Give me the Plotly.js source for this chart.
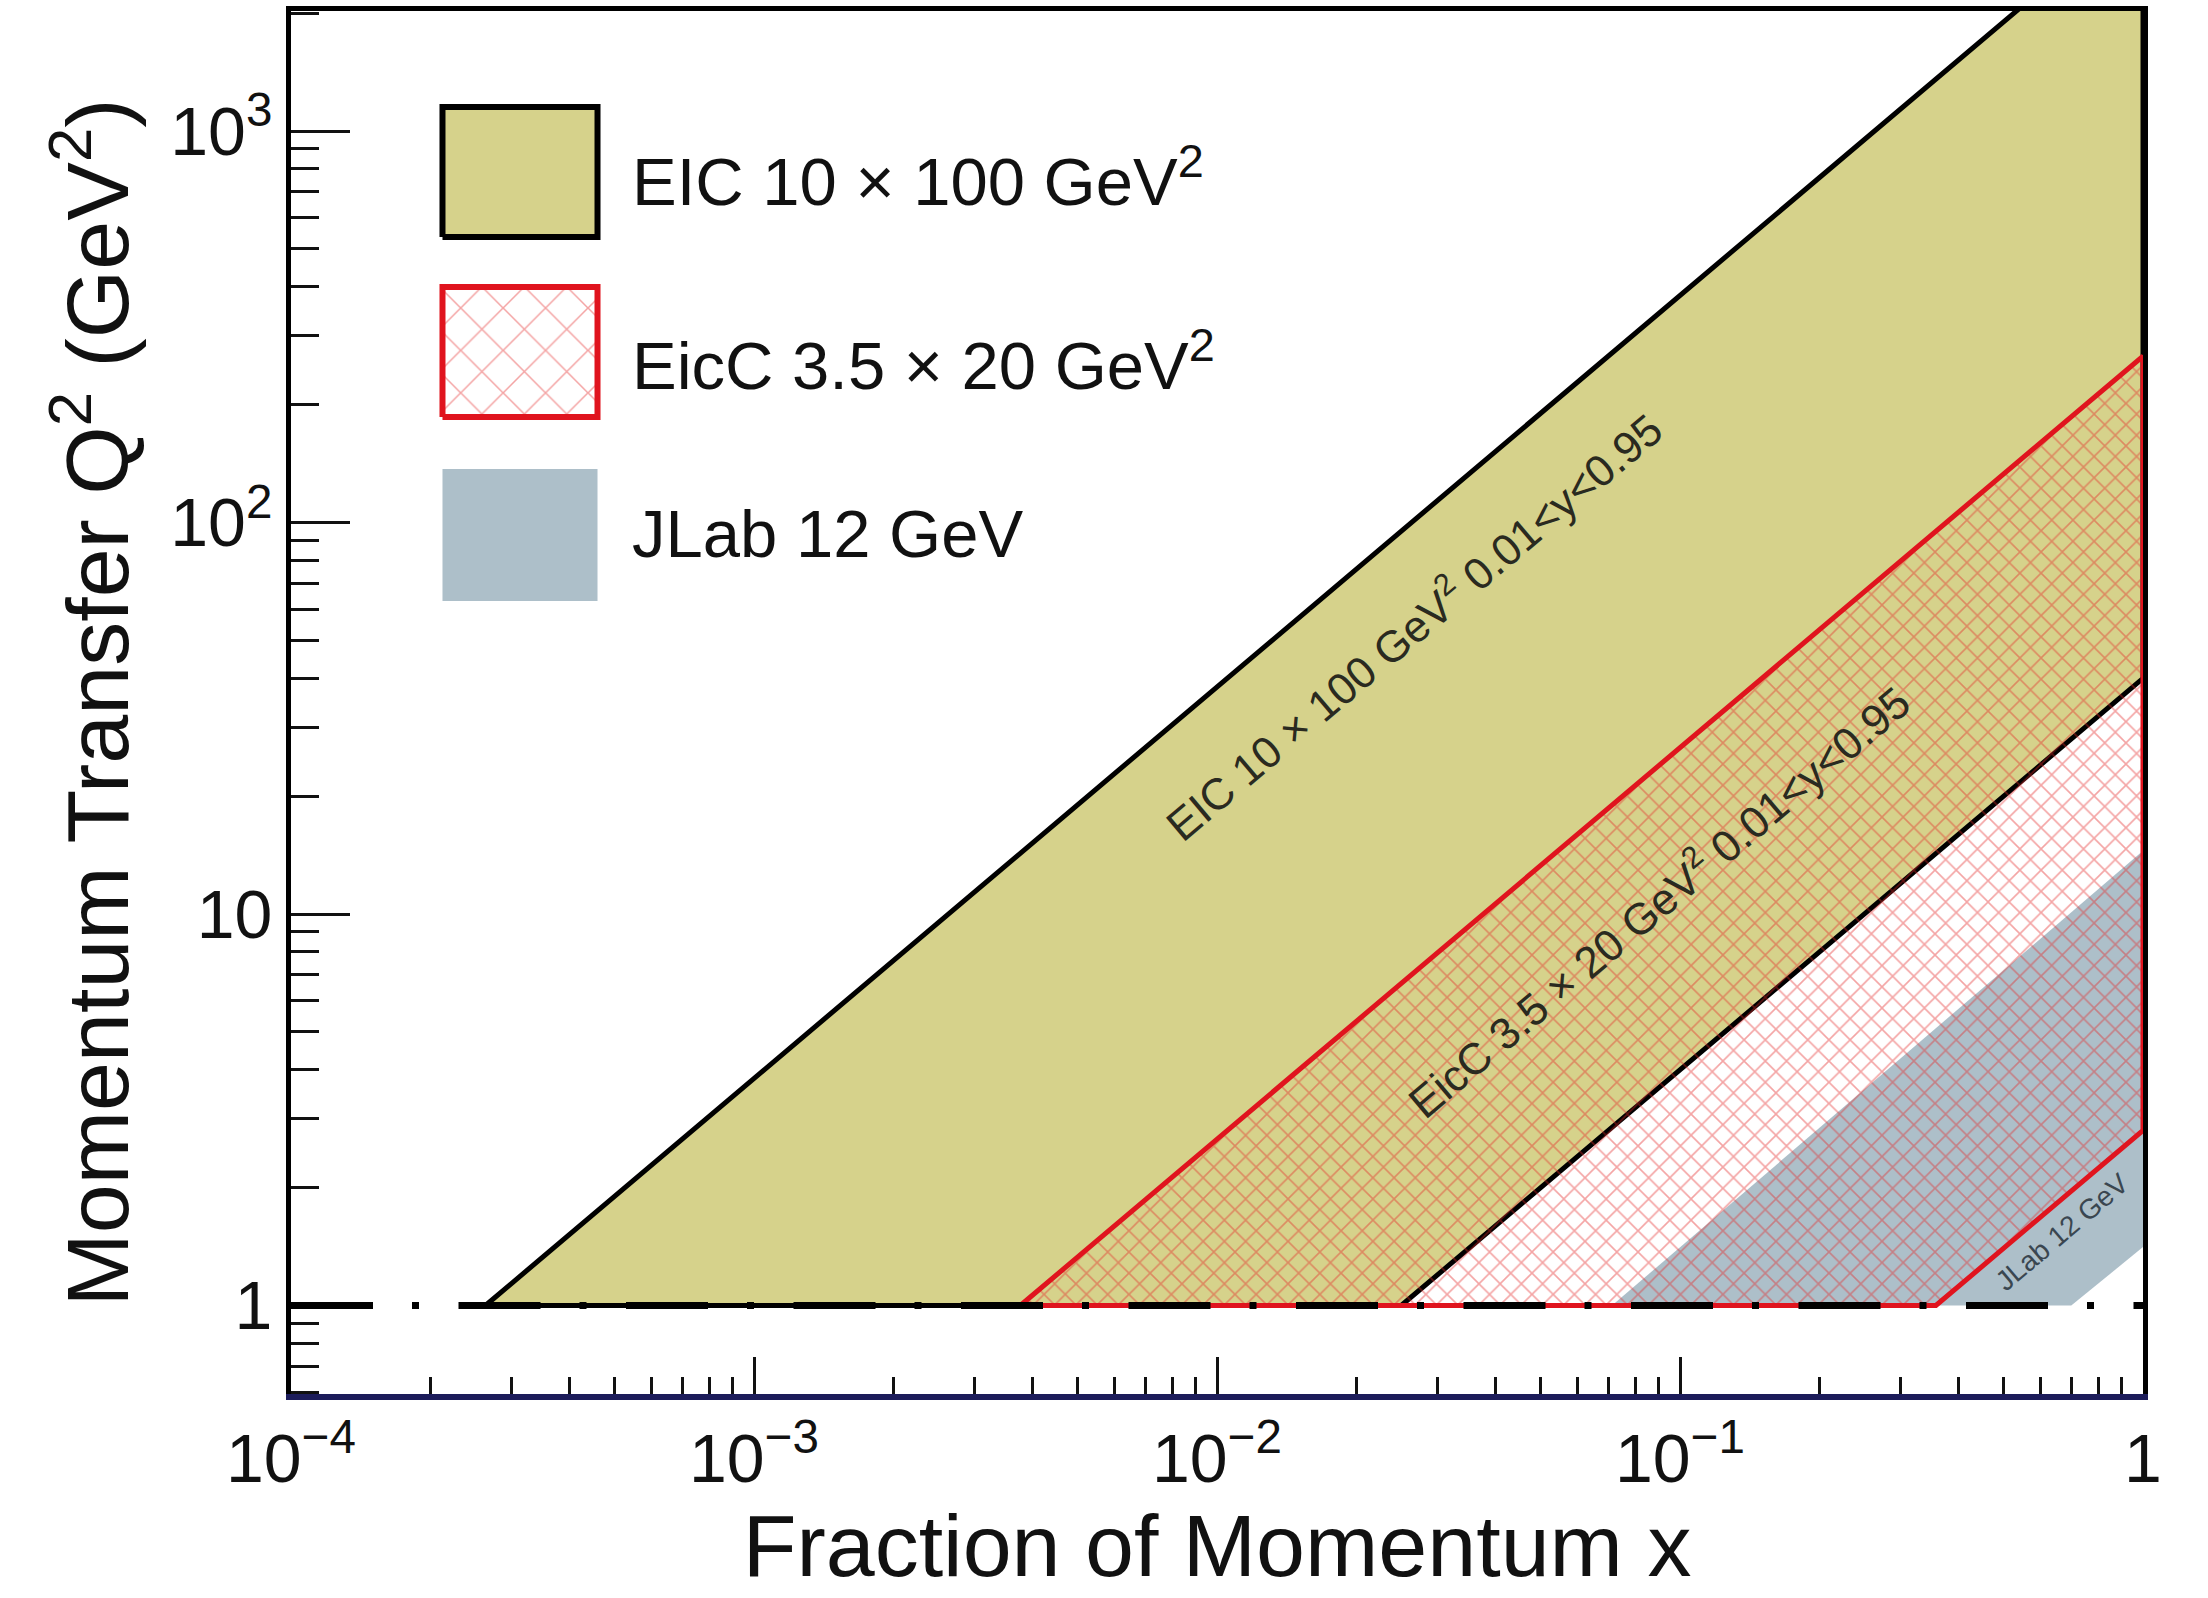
<!DOCTYPE html>
<html><head><meta charset="utf-8">
<script src="https://cdn.plot.ly/plotly-3.0.1.min.js"></script>
<style>html,body{margin:0;padding:0;background:#fff}#chart{width:2208px;height:1598px}</style>
</head><body><div id="chart"></div>
<script>
// ---- data ----
// EIC 10 x 100 GeV^2, 0.01<y<0.95 (region above Q2 = 1)
const eicX  = [2.63e-4, 1, 1, 0.025, 2.63e-4];
const eicQ2 = [1, 3800, 40, 1, 1];
// EicC 3.5 x 20 GeV^2, 0.01<y<0.95
const eiccX  = [3.76e-3, 1, 1, 0.357, 3.76e-3];
const eiccQ2 = [1, 266, 2.8, 1, 1];
// JLab 12 GeV
const jlabX  = [0.0713, 1, 1, 0.70, 0.0713];
const jlabQ2 = [1, 14.5, 1.41, 1, 1];
// Q2 = 1 GeV^2 cut line
const cutX  = [1e-4, 1];
const cutQ2 = [1, 1];

const seriesNames = ['EIC 10 × 100 GeV<sup>2</sup>', 'EicC 3.5 × 20 GeV<sup>2</sup>', 'JLab 12 GeV'];
const bandLabels  = ['EIC 10 × 100 GeV<sup>2</sup> 0.01&lt;y&lt;0.95',
                     'EicC 3.5 × 20 GeV<sup>2</sup> 0.01&lt;y&lt;0.95',
                     'JLab 12 GeV'];
const bandLabelX  = [0.0264, 0.0892, 0.667];
const bandLabelQ2 = [54.8, 10.9, 1.54];

const xTickVals = [1e-4, 1e-3, 1e-2, 1e-1, 1];
const xTickText = ['10<sup>−4</sup>', '10<sup>−3</sup>', '10<sup>−2</sup>', '10<sup>−1</sup>', '1'];
const yTickVals = [1, 10, 100, 1000];
const yTickText = ['1', '10', '10<sup>2</sup>', '10<sup>3</sup>'];

// ---- styling / layout ----
const FONT = 'Liberation Sans, Arial, Helvetica, sans-serif';
const OLIVE = '#d6d28b', GRAY = '#adbfc9', RED = '#e0141e', HATCH = 'rgba(228,40,40,0.85)';
const legendBoxes = [ // fractions of the plot area
  {x0: 0.0818, x1: 0.1655, y0: 0.8366, y1: 0.9306, ty: 0.880},
  {x0: 0.0818, x1: 0.1655, y0: 0.7064, y1: 0.8004, ty: 0.747},
  {x0: 0.0818, x1: 0.1655, y0: 0.5734, y1: 0.6688, ty: 0.622}
];
function minorTicks(lo, hi) {
  const v = [];
  for (let e = lo; e < hi; e++) for (let d = 2; d <= 9; d++) v.push(d * Math.pow(10, e));
  return v;
}
function rectX(b) { return [b.x0, b.x1, b.x1, b.x0, b.x0]; }
function rectY(b) { return [b.y0, b.y0, b.y1, b.y1, b.y0]; }

const traces = [
  {x: eicX, y: eicQ2, mode: 'lines', fill: 'toself', fillcolor: OLIVE,
   line: {color: '#000', width: 5}, showlegend: false, hoverinfo: 'skip', name: seriesNames[0]},
  {x: jlabX, y: jlabQ2, mode: 'lines', fill: 'toself', fillcolor: GRAY,
   line: {width: 0, color: GRAY}, showlegend: false, hoverinfo: 'skip', name: seriesNames[2]},
  {x: eiccX, y: eiccQ2, mode: 'lines', fill: 'toself', fillcolor: 'rgba(0,0,0,0)',
   fillpattern: {shape: 'x', size: 15, solidity: 0.2, fgcolor: HATCH, bgcolor: 'rgba(0,0,0,0)', fillmode: 'overlay'},
   line: {color: RED, width: 5}, showlegend: false, hoverinfo: 'skip', name: seriesNames[1]},
  {x: cutX, y: cutQ2, mode: 'lines', line: {color: '#000', width: 7, dash: '82px,39px,7px,39.5px'},
   showlegend: false, hoverinfo: 'skip', name: 'Q2 = 1'},
  // legend swatches
  {x: rectX(legendBoxes[0]), y: rectY(legendBoxes[0]), xaxis: 'x2', yaxis: 'y2', mode: 'lines', fill: 'toself',
   fillcolor: OLIVE, line: {color: '#000', width: 6}, showlegend: false, hoverinfo: 'skip'},
  {x: rectX(legendBoxes[1]), y: rectY(legendBoxes[1]), xaxis: 'x2', yaxis: 'y2', mode: 'lines', fill: 'toself',
   fillcolor: 'rgba(0,0,0,0)',
   fillpattern: {shape: 'x', size: 30, solidity: 0.1, fgcolor: HATCH, bgcolor: 'rgba(0,0,0,0)', fillmode: 'overlay'},
   line: {color: RED, width: 6}, showlegend: false, hoverinfo: 'skip'},
  {x: rectX(legendBoxes[2]), y: rectY(legendBoxes[2]), xaxis: 'x2', yaxis: 'y2', mode: 'lines', fill: 'toself',
   fillcolor: GRAY, line: {color: GRAY, width: 0}, showlegend: false, hoverinfo: 'skip'}
];

const annotations = [];
for (let i = 0; i < 3; i++) {
  annotations.push({xref: 'paper', yref: 'paper', x: 0.1828, y: legendBoxes[i].ty, xanchor: 'left', yanchor: 'middle',
    text: seriesNames[i], showarrow: false, font: {family: FONT, size: 67, color: '#111'}});
}
const bandFont = [44, 44, 28];
const bandColor = ['#2a2a20', '#2a2a20', '#3a4650'];
for (let i = 0; i < 3; i++) {
  annotations.push({xref: 'x', yref: 'y', x: Math.log10(bandLabelX[i]), y: Math.log10(bandLabelQ2[i]),
    text: bandLabels[i], showarrow: false, textangle: -40.2, xanchor: 'center', yanchor: 'middle',
    font: {family: FONT, size: bandFont[i], color: bandColor[i]}});
}

const layout = {
  width: 2208, height: 1598,
  margin: {l: 291, r: 65, t: 11, b: 204},
  paper_bgcolor: '#fff', plot_bgcolor: '#fff',
  font: {family: FONT, color: '#111'},
  showlegend: false,
  xaxis: {type: 'log', range: [-4, 0], tickmode: 'array', tickvals: xTickVals, ticktext: xTickText,
    ticks: 'inside', ticklen: 37, tickwidth: 3, tickcolor: '#111',
    minor: {tickmode: 'array', tickvals: minorTicks(-4, 0), ticks: 'inside', ticklen: 17, tickwidth: 3, tickcolor: '#111', showgrid: false},
    showline: true, linecolor: '#1c1c5a', linewidth: 6, mirror: false,
    showgrid: false, zeroline: false, layer: 'below traces',
    tickfont: {family: FONT, size: 68, color: '#111'},
    title: {text: 'Fraction of Momentum x', font: {family: FONT, size: 88, color: '#111'}, standoff: 4}},
  yaxis: {type: 'log', range: [-0.226, 3.3065], tickmode: 'array', tickvals: yTickVals, ticktext: yTickText,
    ticks: 'inside', ticklen: 59, tickwidth: 3, tickcolor: '#111',
    minor: {tickmode: 'array', tickvals: minorTicks(-1, 4), ticks: 'inside', ticklen: 28, tickwidth: 3, tickcolor: '#111', showgrid: false},
    showline: true, linecolor: '#000', linewidth: 5, mirror: true,
    showgrid: false, zeroline: false, layer: 'below traces',
    tickfont: {family: FONT, size: 68, color: '#111'},
    title: {text: 'Momentum Transfer Q<sup>2</sup> (GeV<sup>2</sup>)', font: {family: FONT, size: 88, color: '#111'}, standoff: 14}},
  xaxis2: {overlaying: 'x', side: 'top', range: [0, 1], showline: true, linecolor: '#000', linewidth: 5,
    ticks: '', showticklabels: false, showgrid: false, zeroline: false, fixedrange: true},
  yaxis2: {overlaying: 'y', side: 'right', range: [0, 1], showline: false,
    ticks: '', showticklabels: false, showgrid: false, zeroline: false, fixedrange: true},
  annotations: annotations
};

Plotly.newPlot('chart', traces, layout, {staticPlot: true, displayModeBar: false});
</script>
</body></html>
